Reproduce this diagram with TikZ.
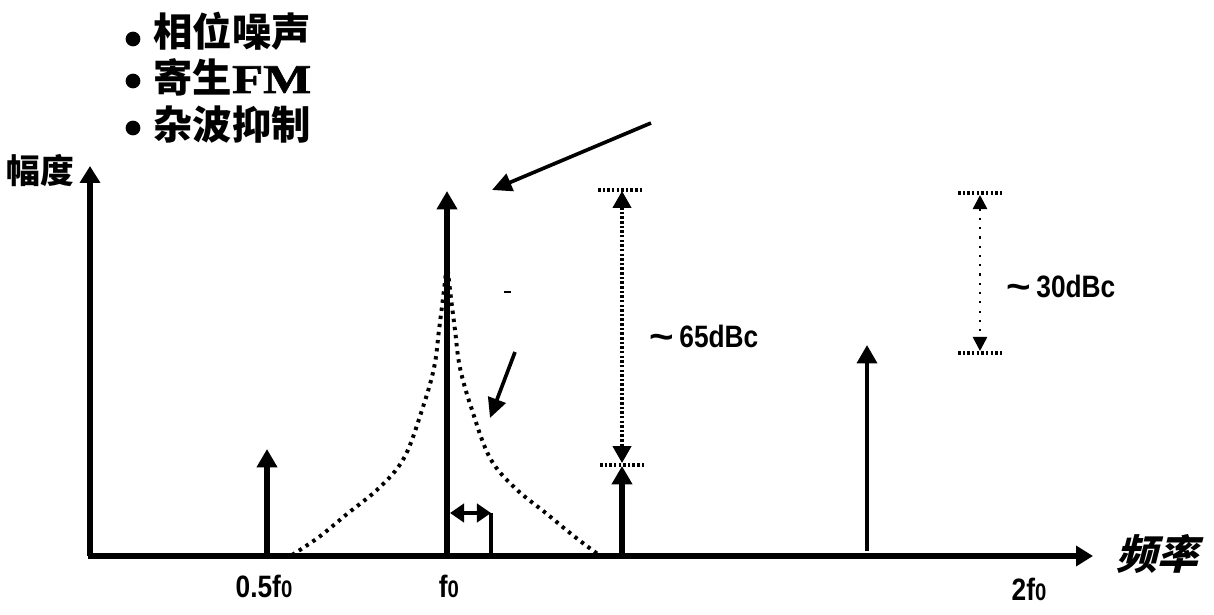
\documentclass[tikz,border=0pt]{standalone}
\usepackage{fontspec}
\usetikzlibrary{arrows.meta}
\newfontfamily\cjk{Noto Sans CJK SC}
\newfontfamily\cjkit{Noto Sans CJK SC}[FakeSlant=0.25]
\newfontfamily\lbl{Liberation Sans}[FakeStretch=0.85]
\newfontfamily\fmfont{Liberation Serif}[FakeStretch=1.25,FakeBold=1.5]
\newcommand{\fz}{f{\fontsize{17}{17}\selectfont 0}}
\newcommand{\tld}{\raisebox{-1pt}{\scalebox{1.6}[1.2]{\textasciitilde}}\,}
\begin{document}
\begin{tikzpicture}[x=0.025cm,y=-0.025cm,
  axis/.style={line width=3.6pt,-{Triangle[width=14pt,length=12pt]}},
  spike/.style={line width=3.6pt,-{Triangle[width=14pt,length=13pt]}},
  ptr/.style={line width=2.6pt,-{Triangle[width=13pt,length=14pt]}},
  noise/.style={line width=2.8pt,dash pattern=on 2.4pt off 3.4pt},
  meas/.style={line width=2.2pt,dash pattern=on 1.8pt off 1.5pt},
  measlight/.style={line width=1.8pt,dash pattern=on 1.6pt off 5pt},
  bullettxt/.style={anchor=base west,inner sep=0pt,font=\cjk\bfseries\fontsize{28}{30}\selectfont},
  num/.style={anchor=base,inner sep=0pt,font=\lbl\bfseries\fontsize{22}{24}\selectfont},
  dot/.style={circle,fill=black,inner sep=0pt,minimum size=10.5pt}
]
\useasboundingbox (0,0) rectangle (1214,615);
% bullets
\node[dot] (d1) at (133,39) {};
\node[dot] (d2) at (133,81) {};
\node[dot] (d3) at (133,128) {};
\node[bullettxt] (b1) at (153,47) {相位噪声};
\node[bullettxt] (b2) at (153,93) {寄生{\fmfont\bfseries\fontsize{29}{29}\selectfont FM}};
\node[bullettxt] (b3) at (153,140) {杂波抑制};
% axes
\coordinate (O) at (90,556);
\coordinate (ytip) at (90,166);
\coordinate (xtip) at (1093,556);
\coordinate (O2) at (88,556);
\draw[axis] (O) -- (ytip);
\draw[axis] (O2) -- (xtip);
\node[anchor=base,inner sep=0pt,font=\cjk\bfseries\fontsize{24}{26}\selectfont] (amp) at (40,184) {幅度};
\node[anchor=base,inner sep=0pt,font=\cjkit\bfseries\fontsize{29}{30}\selectfont] (freq) at (1157,569) {频率};
% noise skirt
\draw[noise] plot[smooth,tension=0.6] coordinates {(292,555) (319,537) (347,514) (379,488) (404,458) (422,410) (434,368) (439,330) (444,290) (447,262)};
\draw[noise] plot[smooth,tension=0.6] coordinates {(447,262) (450,290) (455,330) (460,368) (472,410) (490,458) (515,488) (547,514) (575,537) (599,555)};
% spikes
\coordinate (h1b) at (267,556); \coordinate (h1t) at (267,449);
\coordinate (f0b) at (447,556); \coordinate (f0t) at (447,191);
\coordinate (spb) at (622,556); \coordinate (spt) at (622,466);
\coordinate (h2b) at (867,551); \coordinate (h2t) at (867,345);
\draw[spike] (h1b) -- (h1t);
\draw[spike] (f0b) -- (f0t);
\draw[spike] (spb) -- (spt);
\draw[spike,line width=3pt] (h2b) -- (h2t);
% pointers
\coordinate (p1s) at (651,123); \coordinate (p1e) at (492,190);
\coordinate (p2s) at (515,352); \coordinate (p2e) at (490,418);
\draw[ptr] (p1s) -- (p1e);
\draw[ptr] (p2s) -- (p2e);
\coordinate (m1) at (504,292); \coordinate (m2) at (511,292);
\draw[line width=1.8pt] (m1) -- (m2);
% offset double arrow
\coordinate (da1) at (450,513); \coordinate (da2) at (491,513); \coordinate (da3) at (491,556);
\draw[line width=2.6pt,{Triangle[width=13pt,length=10pt]}-{Triangle[width=13pt,length=10pt]}] (da1) -- (da2);
\draw[line width=2.8pt] (da2) -- (da3);
% 65 dBc measurement
\coordinate (a1) at (598,190); \coordinate (a2) at (643,190);
\coordinate (a3) at (600,465); \coordinate (a4) at (646,465);
\coordinate (a5) at (622,191); \coordinate (a6) at (622,463);
\draw[meas] (a1) -- (a2);
\draw[meas] (a3) -- (a4);
\draw[meas,{Triangle[width=13pt,length=12pt]}-{Triangle[width=13pt,length=12pt]}] (a5) -- (a6);
\node[num] (l65) at (704,348) {\tld 65dBc};
% 30 dBc measurement
\coordinate (c1) at (958,193); \coordinate (c2) at (1004,193);
\coordinate (c3) at (958,353); \coordinate (c4) at (1004,353);
\coordinate (c5) at (980,195); \coordinate (c6) at (980,351);
\draw[meas] (c1) -- (c2);
\draw[meas] (c3) -- (c4);
\draw[measlight,{Triangle[width=10pt,length=10pt]}-{Triangle[width=10pt,length=10pt]}] (c5) -- (c6);
\node[num] (l30) at (1061,298) {\tld 30dBc};
% tick labels
\node[num] (t1) at (264,597) {0.5\fz};
\node[num] (t2) at (449,597) {\fz};
\node[num] (t3) at (1029,600) {2\fz};
\end{tikzpicture}
\end{document}
